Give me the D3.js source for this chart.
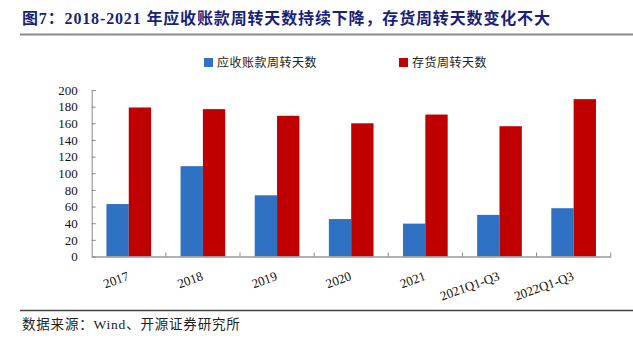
<!DOCTYPE html>
<html>
<head>
<meta charset="utf-8">
<script src="https://cdn.jsdelivr.net/npm/d3@7"></script>
<style>
  html, body { margin: 0; padding: 0; background: #fff; }
  svg { display: block; }
</style>
</head>
<body>
<svg id="chart" width="633" height="338"></svg>
<script>
// Turnover days by period
const categories = ["2017", "2018", "2019", "2020", "2021", "2021Q1-Q3", "2022Q1-Q3"];
const receivableDays = [63, 108.5, 73.5, 45, 39.5, 50, 58];
const inventoryDays = [179, 177, 169, 160, 170.5, 156.5, 189];
const seriesNames = ["应收账款周转天数", "存货周转天数"];
const seriesColors = ["#2f72c4", "#c00000"];
const yTicks = [0, 20, 40, 60, 80, 100, 120, 140, 160, 180, 200];

const titleText = "图7：2018-2021 年应收账款周转天数持续下降，存货周转天数变化不大";
const sourceText = "数据来源：Wind、开源证券研究所";

const svg = d3.select("#chart");
const serifFont = "'Liberation Serif', 'Times New Roman', serif";
const cjkFont = "'Liberation Serif', 'Noto Sans CJK SC', serif";

// Title and rules
svg.append("text")
  .attr("x", 22).attr("y", 24)
  .attr("font-family", cjkFont)
  .attr("font-weight", "bold")
  .attr("font-size", 16)
  .attr("letter-spacing", 0.85)
  .attr("fill", "#1b1f7c")
  .text(titleText);

svg.append("line")
  .attr("x1", 20).attr("x2", 633)
  .attr("y1", 34.5).attr("y2", 34.5)
  .attr("stroke", "#8c8c8c").attr("stroke-width", 2);

svg.append("line")
  .attr("x1", 20).attr("x2", 633)
  .attr("y1", 310.5).attr("y2", 310.5)
  .attr("stroke", "#444").attr("stroke-width", 1.5);

svg.append("text")
  .attr("x", 22).attr("y", 329)
  .attr("font-family", cjkFont)
  .attr("font-size", 13.5)
  .attr("letter-spacing", 0.8)
  .attr("fill", "#222")
  .text(sourceText);

// Plot area
const plot = { left: 91.7, right: 610.7, top: 90, bottom: 256.5 };

const x = d3.scaleBand()
  .domain(categories)
  .range([plot.left, plot.right])
  .paddingInner(0).paddingOuter(0);

// Two bars side by side in the middle of each category
const xs = d3.scaleBand()
  .domain([0, 1])
  .range([0, x.bandwidth()])
  .paddingOuter(0.66)
  .paddingInner(0);

const y = d3.scaleLinear().domain([0, 200]).range([plot.bottom, plot.top]);

// Bars
const series = [receivableDays, inventoryDays];
series.forEach((vals, si) => {
  svg.append("g")
    .selectAll("rect")
    .data(vals)
    .join("rect")
    .attr("x", (d, i) => x(categories[i]) + xs(si))
    .attr("y", d => y(d))
    .attr("width", xs.bandwidth())
    .attr("height", d => y(0) - y(d))
    .attr("fill", seriesColors[si]);
});

// Y axis
const yAxis = svg.append("g")
  .attr("transform", `translate(${plot.left},0)`)
  .call(d3.axisLeft(y).tickValues(yTicks).tickSize(-4).tickPadding(14));
yAxis.select(".domain").attr("stroke", "#888");
yAxis.selectAll(".tick line").attr("stroke", "#888");
yAxis.selectAll("text")
  .attr("font-family", serifFont)
  .attr("font-size", 13)
  .attr("fill", "#111");

// X axis
const xAxis = svg.append("g")
  .attr("transform", `translate(0,${plot.bottom})`)
  .call(d3.axisBottom(x).tickSize(0).tickFormat(""));
xAxis.select(".domain").attr("stroke", "#999").attr("stroke-width", 1.5);

// Category separator ticks pointing up
svg.append("g")
  .selectAll("line")
  .data(categories)
  .join("line")
  .attr("x1", d => x(d) + x.bandwidth())
  .attr("x2", d => x(d) + x.bandwidth())
  .attr("y1", plot.bottom).attr("y2", plot.bottom - 4)
  .attr("stroke", "#888");

// Rotated category labels
svg.append("g")
  .selectAll("text")
  .data(categories)
  .join("text")
  .attr("transform", d => `translate(${x(d) + x.bandwidth() / 2 + 1},${plot.bottom + 23}) rotate(-20)`)
  .attr("text-anchor", "end")
  .attr("font-family", serifFont)
  .attr("font-size", 13)
  .attr("fill", "#111")
  .text(d => d);

// Legend
const legendX = [204, 399];
const legend = svg.append("g")
  .selectAll("g")
  .data(seriesNames)
  .join("g")
  .attr("transform", (d, i) => `translate(${legendX[i]},58)`);
legend.append("rect")
  .attr("width", 9).attr("height", 9)
  .attr("fill", (d, i) => seriesColors[i]);
legend.append("text")
  .attr("x", 13).attr("y", 9)
  .attr("font-family", cjkFont)
  .attr("font-size", 12)
  .attr("letter-spacing", 0.5)
  .attr("fill", "#222")
  .text(d => d);
</script>
</body>
</html>
